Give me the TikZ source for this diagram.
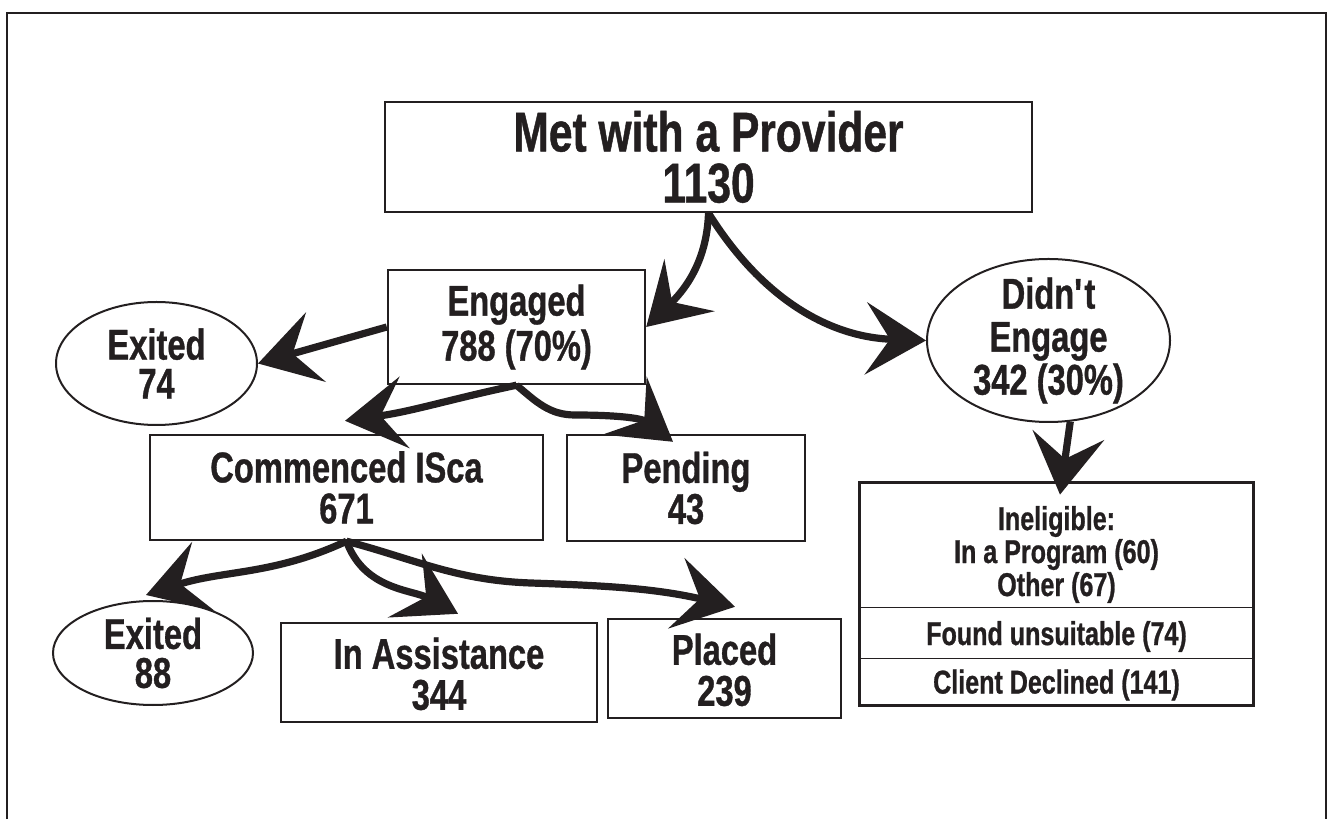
\documentclass[tikz,border=0pt]{standalone}
\usepackage{fontspec}
\setmainfont{Liberation Sans Bold}[FakeStretch=0.76,FakeBold=0.8]
\usetikzlibrary{arrows.meta,shapes.geometric}
\definecolor{ink}{HTML}{231F20}

\begin{document}
\begin{tikzpicture}[x=0.5pt,y=0.5pt,
  box/.style={draw=ink,line width=1.2pt,rectangle,inner sep=0pt,align=center,text=ink,font=\fontsize{21.5}{20.5}\selectfont},
  oval/.style={draw=ink,line width=1pt,ellipse,inner sep=-3pt,align=center,text=ink,font=\fontsize{21.5}{19.5}\selectfont},
  part/.style={inner sep=0pt,minimum width=196.5pt},
  parttext/.style={inner sep=0pt,align=center,text=ink,font=\fontsize{16.5}{16.5}\selectfont},
  flow/.style={draw=ink,line width=3.6pt,-{Stealth[length=30pt,width=36pt,inset=12pt]}}]
\useasboundingbox (0,0) rectangle (1332,819);
\draw [ink,line width=1.3pt] (7,0) -- (7,806) -- (1326,806) -- (1326,0);

\node [box,minimum width=323.5pt,minimum height=55pt,font=\fontsize{28}{25.5}\selectfont] (provider) at (708.5,662) {Met with a Provider\\1130};
\node [box,minimum width=128.5pt,minimum height=57pt,font=\fontsize{21.5}{22.5}\selectfont] (engaged) at (516.5,492) {Engaged\\788 (70\%)};
\node [oval,minimum width=100.5pt,minimum height=61.5pt] (exitA) at (156.5,455.5) {Exited\\74};
\node [oval,minimum width=121.5pt,minimum height=81.5pt,font=\fontsize{21.5}{21.5}\selectfont] (didnt) at (1048.5,478.5) {Didn\textquotesingle t\\Engage\\342 (30\%)};
\node [box,minimum width=196.5pt,minimum height=52.5pt] (commenced) at (346.5,331.5) {Commenced ISca\\671};
\node [box,minimum width=119pt,minimum height=53pt] (pending) at (686,331) {Pending\\43};
\node [oval,minimum width=100pt,minimum height=52pt] (exitB) at (153,166) {Exited\\88};
\node [box,minimum width=158pt,minimum height=49.5pt] (assist) at (439,146.5) {\rule{0pt}{17pt}In Assistance\\344};
\node [box,minimum width=116.5pt,minimum height=49.5pt] (placed) at (724.5,150.5) {\rule{0pt}{17pt}Placed\\239};

\node [part,minimum height=62.5pt] (inel) at (1056.5,273.5) {};
\node [part,minimum height=25.5pt] (found) at (1056.5,185.5) {};
\node [part,minimum height=23pt] (client) at (1056.5,137) {};
\node [parttext] (inelText) at ([yshift=-4.5pt]inel.center) {Ineligible:\\In a Program (60)\\Other (67)};
\node [parttext] (foundText) at ([yshift=-1.5pt]found.center) {Found unsuitable (74)};
\node [parttext] (clientText) at ([yshift=-1.5pt]client.center) {Client Declined (141)};
\draw [ink,line width=1.2pt] (inel.north west) rectangle (client.south east);
\draw [ink,line width=0.6pt] (found.north west) -- (found.north east);
\draw [ink,line width=0.6pt] (client.north west) -- (client.north east);

\draw [flow] (provider.south) to[out=-92,in=44] (engaged.east);
\draw [flow] (provider.south) to[out=-58,in=178] (didnt.west);
\draw [flow] (engaged.west) -- (exitA.east);
\draw [flow] (engaged.south) to[out=192,in=8] ([xshift=-0.75pt,yshift=6.5pt]commenced.north);
\draw [flow] (engaged.south) to[out=-40,in=180] (575,404) to[out=0,in=143] ([xshift=-6.5pt,yshift=-4pt]pending.north);
\draw [flow] (didnt.-75) -- ([xshift=1.75pt,yshift=-6pt]inel.north);
\draw [flow] (commenced.south) to[out=205,in=18] ([xshift=-3.5pt,yshift=2.5pt]exitB.north);
\draw [flow] (commenced.south) to[out=-70,in=152] ([xshift=9.5pt,yshift=4pt]assist.north);
\draw [flow] (commenced.south) to[out=-15,in=178] (531,236) to[out=-2,in=167] ([xshift=5.25pt,yshift=5.5pt]placed.north);
\end{tikzpicture}
\end{document}
